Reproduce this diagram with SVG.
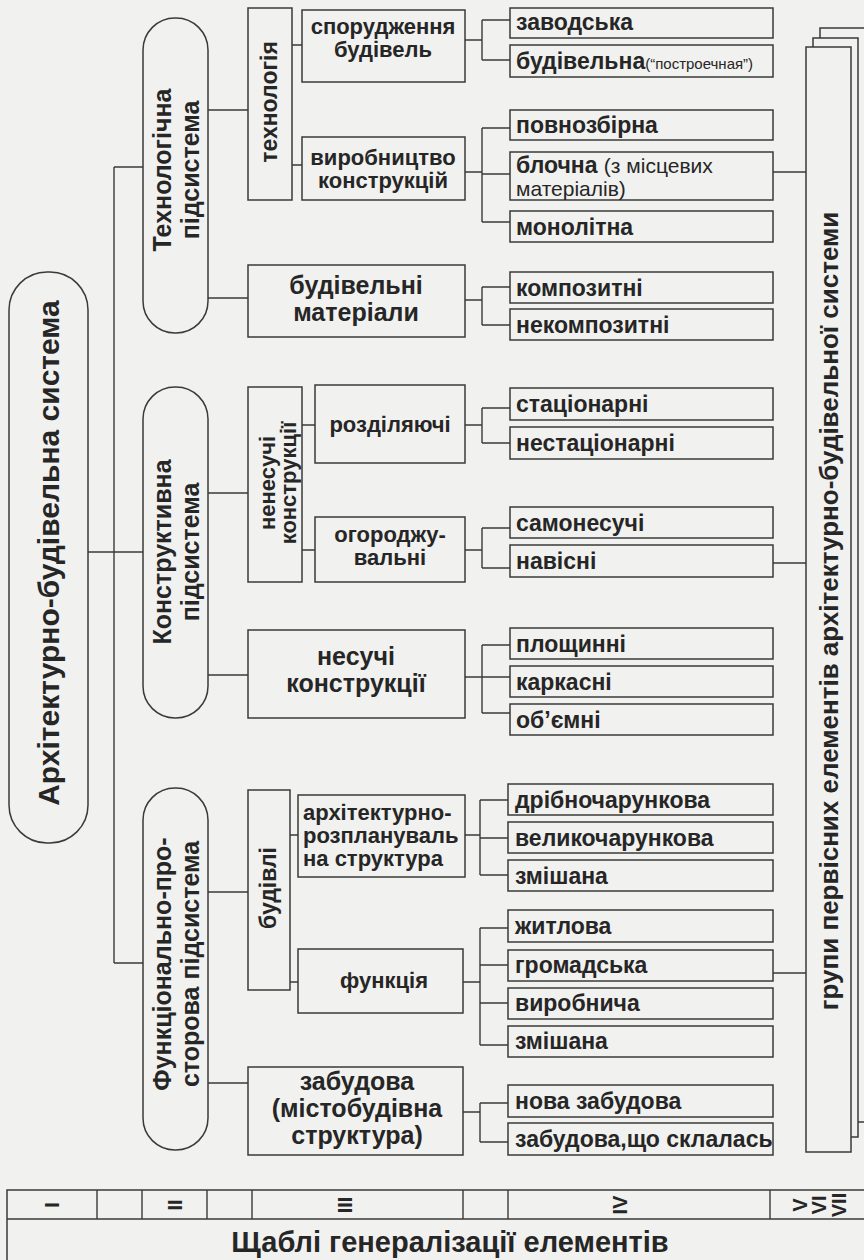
<svg xmlns="http://www.w3.org/2000/svg" width="864" height="1260" viewBox="0 0 864 1260">
<style>
text{font-family:"Liberation Sans",Arial,sans-serif;font-weight:bold;fill:#262626}
.box{fill:none;stroke:#3a3a3a;stroke-width:1.5}
.wbox{fill:#f1f1ef;stroke:#3a3a3a;stroke-width:1.5}
.ln{fill:none;stroke:#3a3a3a;stroke-width:1.4}
.c{text-anchor:middle}
.f30{font-size:30px}.f26{font-size:26px}.f25{font-size:25px}.f23{font-size:23px}.f22{font-size:22px}
.leaf{font-size:23px}
.rn{font-size:20px;text-anchor:middle}
.sm{font-size:15px;font-weight:normal}
.nw{font-weight:normal;font-size:21px}
</style>
<rect x="0" y="0" width="864" height="1260" fill="#f1f1ef"/>

<g id="connectors">
  <path class="ln" d="M88,552H143M114,167V963M114,167H143M114,963H143"/>
  <path class="ln" d="M208,110H248M208,298H248"/>
  <path class="ln" d="M292,45H302M292,165H302"/>
  <path class="ln" d="M465,40H482M482,20V60M482,20H510M482,60H510"/>
  <path class="ln" d="M465,172H482M482,128V222M482,128H510M482,174H510M482,222H510"/>
  <path class="ln" d="M465,300H482M482,287V325M482,287H510M482,325H510"/>
  <path class="ln" d="M208,493H248M208,675H248"/>
  <path class="ln" d="M302,425H315M302,550H315"/>
  <path class="ln" d="M465,425H482M482,408V443M482,408H510M482,443H510"/>
  <path class="ln" d="M465,550H482M482,528V568M482,528H510M482,568H510"/>
  <path class="ln" d="M465,677H482M482,645V713M482,645H510M482,677H510M482,713H510"/>
  <path class="ln" d="M208,892H248M208,1083H248"/>
  <path class="ln" d="M290,835H298M290,982H298"/>
  <path class="ln" d="M465,835H480M480,800V875M480,800H508M480,838H508M480,875H508"/>
  <path class="ln" d="M463,982H480M480,928V1045M480,928H508M480,965H508M480,1003H508M480,1045H508"/>
  <path class="ln" d="M463,1112H480M480,1103V1142M480,1103H508M480,1142H508"/>
  <path class="ln" d="M773,172H806M773,563H806M773,973H806"/>
</g>

<g id="root">
  <rect class="box" x="9" y="272" width="79" height="571" rx="38"/>
  <text class="c f30" transform="translate(59,553) rotate(-90)">Архітектурно-будівельна система</text>
</g>

<g id="sub-tech">
  <rect class="box" x="143" y="18" width="65" height="315" rx="32"/>
  <text class="c f25" transform="translate(171,170) rotate(-90)">Технологічна</text>
  <text class="c f25" transform="translate(199,170) rotate(-90)">підсистема</text>
</g>
<g id="sub-constr">
  <rect class="box" x="143" y="387" width="65" height="331" rx="32"/>
  <text class="c f25" transform="translate(171,552) rotate(-90)">Конструктивна</text>
  <text class="c f25" transform="translate(199,552) rotate(-90)">підсистема</text>
</g>
<g id="sub-func">
  <rect class="box" x="143" y="788" width="65" height="362" rx="32"/>
  <text class="c f25" transform="translate(171,964) rotate(-90)">Функціонально-про-</text>
  <text class="c f25" transform="translate(199,964) rotate(-90)">сторова підсистема</text>
</g>

<g id="n-tekhnolohiia">
  <rect class="box" x="248" y="8" width="44" height="192"/>
  <text class="c f23" transform="translate(277,102) rotate(-90)">технологія</text>
</g>
<g id="n-sporudzhennia">
  <rect class="box" x="302" y="10" width="163" height="72"/>
  <text class="c f22" x="383" y="34">спорудження</text>
  <text class="c f22" x="383" y="57">будівель</text>
</g>
<g id="n-vyrobnytstvo">
  <rect class="box" x="302" y="137" width="163" height="63"/>
  <text class="c f22" x="383" y="165">виробництво</text>
  <text class="c f22" x="383" y="188">конструкцій</text>
</g>
<g id="n-materialy">
  <rect class="box" x="248" y="265" width="217" height="72"/>
  <text class="c f25" x="356" y="294">будівельні</text>
  <text class="c f25" x="356" y="321">матеріали</text>
</g>

<g id="l-zavodska"><rect class="box" x="510" y="8" width="263" height="30"/><text class="leaf" x="516" y="30">заводська</text></g>
<g id="l-budivelna"><rect class="box" x="510" y="45" width="263" height="32"/><text class="leaf" x="516" y="69">будівельна<tspan class="sm">(“построечная”)</tspan></text></g>
<g id="l-povnozbirna"><rect class="box" x="510" y="110" width="263" height="30"/><text class="leaf" x="516" y="133">повнозбірна</text></g>
<g id="l-blochna"><rect class="box" x="510" y="152" width="263" height="48"/><text class="leaf" x="516" y="173">блочна <tspan class="nw">(з місцевих</tspan></text><text class="leaf nw" x="516" y="196">матеріалів)</text></g>
<g id="l-monolitna"><rect class="box" x="510" y="211" width="263" height="31"/><text class="leaf" x="516" y="235">монолітна</text></g>
<g id="l-kompozytni"><rect class="box" x="510" y="272" width="263" height="31"/><text class="leaf" x="516" y="296">композитні</text></g>
<g id="l-nekompozytni"><rect class="box" x="510" y="309" width="263" height="31"/><text class="leaf" x="516" y="333">некомпозитні</text></g>

<g id="n-nenesuchi">
  <rect class="box" x="248" y="387" width="54" height="195"/>
  <text class="c f22" transform="translate(275,483) rotate(-90)">ненесучі</text>
  <text class="c f22" transform="translate(296,483) rotate(-90)">конструкції</text>
</g>
<g id="n-rozdiliaiuchi">
  <rect class="box" x="315" y="385" width="150" height="78"/>
  <text class="c f22" x="390" y="432">розділяючі</text>
</g>
<g id="n-ohorodzhuvalni">
  <rect class="box" x="315" y="517" width="150" height="65"/>
  <text class="c f22" x="390" y="542">огороджу-</text>
  <text class="c f22" x="390" y="565">вальні</text>
</g>
<g id="n-nesuchi">
  <rect class="box" x="248" y="630" width="217" height="88"/>
  <text class="c f25" x="356" y="665">несучі</text>
  <text class="c f25" x="356" y="692">конструкції</text>
</g>

<g id="l-statsionarni"><rect class="box" x="510" y="388" width="263" height="32"/><text class="leaf" x="516" y="412">стаціонарні</text></g>
<g id="l-nestatsionarni"><rect class="box" x="510" y="427" width="263" height="32"/><text class="leaf" x="516" y="451">нестаціонарні</text></g>
<g id="l-samonesuchi"><rect class="box" x="510" y="507" width="263" height="31"/><text class="leaf" x="516" y="531">самонесучі</text></g>
<g id="l-navisni"><rect class="box" x="510" y="545" width="263" height="32"/><text class="leaf" x="516" y="569">навісні</text></g>
<g id="l-ploshchynni"><rect class="box" x="510" y="628" width="263" height="31"/><text class="leaf" x="516" y="652">площинні</text></g>
<g id="l-karkasni"><rect class="box" x="510" y="666" width="263" height="31"/><text class="leaf" x="516" y="690">каркасні</text></g>
<g id="l-obiemni"><rect class="box" x="510" y="704" width="263" height="31"/><text class="leaf" x="516" y="728">об’ємні</text></g>

<g id="n-budivli">
  <rect class="box" x="248" y="790" width="42" height="200"/>
  <text class="c f23" transform="translate(276,888) rotate(-90)">будівлі</text>
</g>
<g id="n-arkh">
  <rect class="box" x="298" y="795" width="167" height="82"/>
  <text class="f22" x="303" y="820">архітектурно-</text>
  <text class="f22" x="303" y="843">розплануваль</text>
  <text class="f22" x="303" y="866">на структура</text>
</g>
<g id="n-funktsiia">
  <rect class="box" x="298" y="949" width="165" height="64"/>
  <text class="c f22" x="384" y="988">функція</text>
</g>
<g id="n-zabudova">
  <rect class="box" x="248" y="1067" width="215" height="88"/>
  <text class="c f25" x="357" y="1090">забудова</text>
  <text class="c f25" x="357" y="1117">(містобудівна</text>
  <text class="c f25" x="357" y="1144">структура)</text>
</g>

<g id="l-dribno"><rect class="box" x="508" y="784" width="265" height="31"/><text class="leaf" x="515" y="808">дрібночарункова</text></g>
<g id="l-velyko"><rect class="box" x="508" y="822" width="265" height="31"/><text class="leaf" x="515" y="846">великочарункова</text></g>
<g id="l-zmishana1"><rect class="box" x="508" y="860" width="265" height="31"/><text class="leaf" x="515" y="884">змішана</text></g>
<g id="l-zhytlova"><rect class="box" x="508" y="910" width="265" height="32"/><text class="leaf" x="515" y="934">житлова</text></g>
<g id="l-hromadska"><rect class="box" x="508" y="950" width="265" height="31"/><text class="leaf" x="515" y="973">громадська</text></g>
<g id="l-vyrobnycha"><rect class="box" x="508" y="988" width="265" height="31"/><text class="leaf" x="515" y="1011">виробнича</text></g>
<g id="l-zmishana2"><rect class="box" x="508" y="1026" width="265" height="31"/><text class="leaf" x="515" y="1049">змішана</text></g>
<g id="l-nova"><rect class="box" x="508" y="1085" width="265" height="32"/><text class="leaf" x="515" y="1109">нова забудова</text></g>
<g id="l-sklalas"><rect class="box" x="508" y="1123" width="265" height="32"/><text class="leaf" x="515" y="1147">забудова,що склалась</text></g>

<g id="groups">
  <rect class="wbox" x="820" y="28" width="48" height="1094"/>
  <rect class="wbox" x="813" y="38" width="45" height="1099"/>
  <rect class="wbox" x="806" y="47" width="45" height="1105"/>
  <text class="c f26" transform="translate(838,611) rotate(-90)">групи первісних елементів архітектурно-будівельної системи</text>
</g>

<g id="scale">
  <rect class="box" x="7" y="1190" width="870" height="90"/>
  <path class="ln" d="M7,1219H864M97,1190V1219M142,1190V1219M207,1190V1219M252,1190V1219M463,1190V1219M508,1190V1219M770,1190V1219"/>
  <text class="rn" transform="translate(59,1205) rotate(-90)">I</text>
  <text class="rn" transform="translate(182,1205) rotate(-90)">II</text>
  <text class="rn" transform="translate(352,1205) rotate(-90)">III</text>
  <text class="rn" transform="translate(627,1205) rotate(-90)">IV</text>
  <text class="rn" transform="translate(807,1205) rotate(-90)">V</text>
  <text class="rn" transform="translate(826,1205) rotate(-90)">VI</text>
  <text class="rn" transform="translate(846,1205) rotate(-90)">VII</text>
  <text class="c" style="font-size:29px" x="450" y="1252">Щаблі генералізації елементів</text>
</g>
</svg>
